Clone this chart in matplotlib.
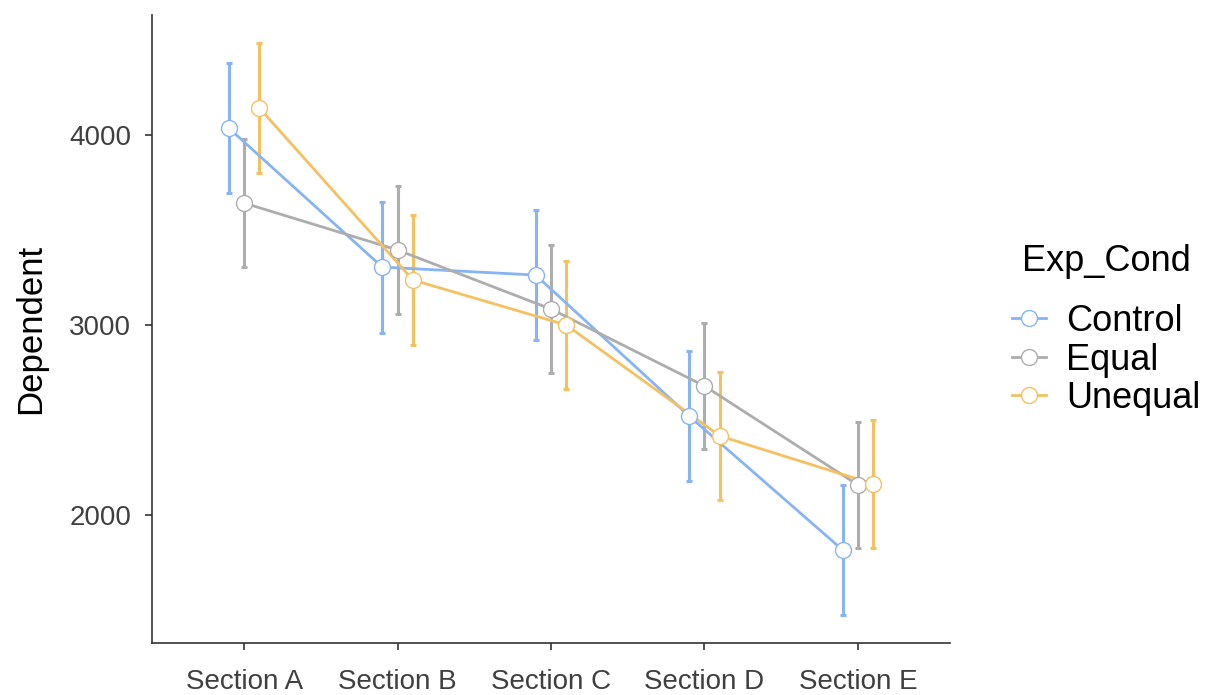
import numpy as np
import matplotlib.pyplot as plt
from matplotlib.lines import Line2D

plt.rcParams['font.family'] = ['Liberation Sans', 'DejaVu Sans']

# data
sections = ['Section A', 'Section B', 'Section C', 'Section D', 'Section E']
groups = ['Control', 'Equal', 'Unequal']

control_mean = [4037, 3305, 3263, 2521, 1816]
equal_mean = [3642, 3395, 3084, 2679, 2158]
unequal_mean = [4142, 3237, 3000, 2416, 2163]

control_ci = [342, 345, 342, 342, 342]
equal_ci = [339, 337, 337, 334, 334]
unequal_ci = [342, 342, 337, 339, 339]

colors = ['#86B4F5', '#ADADAD', '#F4C060']
means = [control_mean, equal_mean, unequal_mean]
cis = [control_ci, equal_ci, unequal_ci]
offsets = [-0.1, 0.0, 0.1]

fig = plt.figure(figsize=(12.15, 6.95), dpi=100)
ax = fig.add_axes([152 / 1215, 1 - 643 / 695, (950 - 152) / 1215, (643 - 15) / 695])

x = np.arange(len(sections))
for m, c, col, off in zip(means, cis, colors, offsets):
    xs = x + off
    ax.errorbar(xs, m, yerr=c, fmt='none', ecolor=col, elinewidth=2.2,
                capsize=2, capthick=2.2, zorder=2)
    ax.plot(xs, m, color=col, linewidth=2.0, zorder=3)
    ax.plot(xs, m, linestyle='none', marker='o', markersize=11.5,
            markerfacecolor='white', markeredgecolor=col,
            markeredgewidth=1.0, zorder=4)

ax.set_xlim(-0.6, 4.6)
ax.set_ylim(1326, 4632)
ax.set_xticks(x)
ax.set_xticklabels(sections)
ax.set_yticks([2000, 3000, 4000])
ax.tick_params(axis='both', labelsize=20, colors='#333333', length=5,
               width=1.2, labelcolor='#3F3F3F')
ax.tick_params(axis='x', pad=14)
ax.tick_params(axis='y', pad=10)
for s in ['top', 'right']:
    ax.spines[s].set_visible(False)
for s in ['left', 'bottom']:
    ax.spines[s].set_color('#333333')
    ax.spines[s].set_linewidth(1.2)
ax.set_ylabel('Dependent', fontsize=25, color='black', labelpad=16)

# legend: title placed separately so the gap above the keys matches
fig.text(1022 / 1215, 1 - 262 / 695, 'Exp_Cond', fontsize=26,
         ha='left', va='center')
handles = [Line2D([0], [0], color=col, linewidth=2.0, marker='o', markersize=11.5,
                  markerfacecolor='white', markeredgecolor=col, markeredgewidth=1.0)
           for col in colors]
fig.legend(handles, groups, loc='center left',
           bbox_to_anchor=(1012 / 1215, 1 - 360 / 695), frameon=False,
           fontsize=26, handlelength=0.95, handletextpad=0.55,
           labelspacing=0.1, borderaxespad=0, borderpad=0)

fig.savefig('out.png', dpi=100)
